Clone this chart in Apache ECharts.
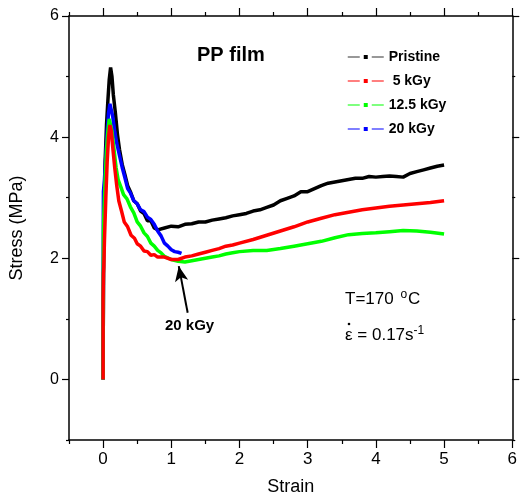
<!DOCTYPE html>
<html><head><meta charset="utf-8">
<script src="https://cdn.jsdelivr.net/npm/echarts@6/dist/echarts.min.js"></script>
<style>html,body{margin:0;padding:0;background:#fff}#c{width:520px;height:501px}</style>
</head><body><div id="c"></div>
<script>
const seriesNames = ['Pristine', ' 5 kGy', '12.5 kGy', '20 kGy'];
const pristine = [[0,0],[0,0.5],[0.005,1.2],[0.01,2.2],[0.02,3.0],[0.03,3.6],[0.05,4.2],[0.07,4.6],[0.09,4.95],[0.11,5.15],[0.13,5.0],[0.15,4.7],[0.18,4.4],[0.21,4.05],[0.24,3.8],[0.28,3.55],[0.32,3.38],[0.36,3.2],[0.4,3.1],[0.45,2.95],[0.5,2.9],[0.55,2.78],[0.6,2.74],[0.65,2.62],[0.7,2.62],[0.75,2.5],[0.8,2.47],[0.9,2.5],[1.0,2.53],[1.1,2.52],[1.2,2.56],[1.3,2.57],[1.4,2.6],[1.5,2.6],[1.6,2.63],[1.7,2.65],[1.8,2.67],[1.9,2.7],[2.0,2.72],[2.1,2.74],[2.2,2.78],[2.3,2.8],[2.4,2.84],[2.5,2.88],[2.6,2.95],[2.7,2.99],[2.8,3.03],[2.9,3.1],[3.0,3.1],[3.1,3.15],[3.2,3.2],[3.3,3.24],[3.4,3.26],[3.5,3.28],[3.6,3.3],[3.7,3.32],[3.8,3.32],[3.9,3.35],[4.0,3.34],[4.1,3.35],[4.2,3.36],[4.3,3.35],[4.4,3.34],[4.5,3.4],[4.6,3.43],[4.7,3.46],[4.8,3.49],[4.9,3.52],[5.0,3.54]];
const kGy5 = [[0,0],[0,0.66],[0,1.32],[0.005,1.75],[0.01,1.85],[0.02,2.3],[0.04,3.0],[0.06,3.6],[0.08,4.0],[0.1,4.2],[0.12,4.1],[0.14,3.85],[0.17,3.5],[0.2,3.2],[0.23,2.95],[0.27,2.78],[0.31,2.6],[0.36,2.52],[0.41,2.38],[0.46,2.33],[0.5,2.24],[0.55,2.2],[0.6,2.12],[0.65,2.11],[0.7,2.05],[0.75,2.06],[0.8,2.02],[0.9,2.02],[1.0,1.98],[1.1,1.98],[1.2,2.02],[1.3,2.04],[1.4,2.07],[1.5,2.1],[1.6,2.13],[1.7,2.16],[1.8,2.2],[1.9,2.22],[2.0,2.25],[2.2,2.31],[2.4,2.38],[2.6,2.45],[2.8,2.52],[3.0,2.6],[3.2,2.66],[3.4,2.72],[3.6,2.76],[3.8,2.8],[4.0,2.83],[4.2,2.86],[4.4,2.88],[4.6,2.9],[4.8,2.92],[5.0,2.95]];
const kGy12_5 = [[0,0],[0,0.8],[0.003,1.9],[0.005,2.4],[0.01,2.7],[0.03,3.3],[0.05,3.8],[0.07,4.1],[0.09,4.3],[0.11,4.3],[0.13,4.1],[0.16,3.8],[0.19,3.5],[0.22,3.3],[0.26,3.18],[0.3,3.05],[0.35,2.98],[0.4,2.85],[0.45,2.75],[0.5,2.6],[0.55,2.53],[0.6,2.42],[0.65,2.36],[0.7,2.25],[0.75,2.2],[0.8,2.13],[0.85,2.09],[0.9,2.03],[1.0,1.98],[1.1,1.95],[1.2,1.94],[1.3,1.96],[1.4,1.98],[1.5,2.0],[1.6,2.02],[1.7,2.04],[1.8,2.07],[1.9,2.09],[2.0,2.11],[2.2,2.13],[2.4,2.13],[2.6,2.16],[2.8,2.2],[3.0,2.24],[3.2,2.28],[3.4,2.34],[3.6,2.39],[3.8,2.41],[4.0,2.42],[4.2,2.44],[4.4,2.46],[4.6,2.45],[4.8,2.43],[5.0,2.4]];
const kGy20 = [[0,0],[0,1.14],[0.003,2.7],[0.005,3.1],[0.02,3.3],[0.04,3.7],[0.06,4.1],[0.08,4.4],[0.1,4.55],[0.12,4.55],[0.14,4.35],[0.17,4.1],[0.2,3.9],[0.24,3.7],[0.28,3.5],[0.32,3.33],[0.36,3.15],[0.4,3.08],[0.45,2.95],[0.5,2.9],[0.55,2.8],[0.6,2.77],[0.65,2.68],[0.7,2.64],[0.75,2.56],[0.8,2.45],[0.85,2.37],[0.9,2.25],[0.95,2.2],[1.0,2.14],[1.05,2.11],[1.1,2.1],[1.15,2.08]];
const xTickLabels = [0,1,2,3,4,5,6];
const xMinorTicks = [-0.5,0.5,1.5,2.5,3.5,4.5,5.5];
const yTickLabels = [0,2,4,6];
const yMinorTicks = [-1,1,3,5];
const arrowFrom = [1.24, 1.1];
const arrowTo = [1.11, 1.87];

const chart = echarts.init(document.getElementById('c'), null, {renderer:'canvas'});
const font = 'Liberation Sans, Arial, sans-serif';
function mkAxis(kind, pos, ticks, len, showLine, extra){
  const base = {type:'value', position:pos, splitLine:{show:false},
    axisLine:{show:showLine, onZero:false, lineStyle:{color:'#000', width:1.5}},
    axisTick:{show:true, inside:false, length:len, customValues:ticks, lineStyle:{color:'#000', width:1.2}},
    axisLabel:{show:false}};
  if (kind === 'x') { base.min = -0.5; base.max = 6; base.interval = 0.5; }
  else { base.min = -1; base.max = 6; base.interval = 1; }
  return Object.assign(base, extra || {});
}
function mkSeries(name, data, color){
  return {name, type:'line', data, symbol:'rect', symbolSize:3, showSymbol:false,
    lineStyle:{color, width:3.5}, itemStyle:{color}, z:2, animation:false};
}
const s = [
  mkSeries(seriesNames[0], pristine, '#000000'),
  mkSeries(seriesNames[3], kGy20, '#0000ff'),
  mkSeries(seriesNames[2], kGy12_5, '#00ff00'),
  mkSeries(seriesNames[1], kGy5, '#ff0000')
];
s[3].markLine = {silent:true, symbol:['none','arrow'], symbolSize:[10,15],
  lineStyle:{color:'#000', width:2, type:'solid'}, label:{show:false},
  data:[[{coord:arrowFrom},{coord:arrowTo}]], animation:false};
chart.setOption({
  animation:false,
  backgroundColor:'#fff',
  grid:{left:67, right:6, top:16, bottom:59, containLabel:false},
  xAxis:[
    mkAxis('x','bottom', xTickLabels, 8, true, {
      name:'Strain', nameLocation:'middle', nameGap:38,
      nameTextStyle:{fontFamily:font, fontSize:18, color:'#000'},
      axisLabel:{show:true, customValues:xTickLabels, fontFamily:font, fontSize:17, color:'#000', margin:11}}),
    mkAxis('x','bottom', xMinorTicks, 4, false),
    mkAxis('x','top', xTickLabels, 8, true),
    mkAxis('x','top', xMinorTicks, 4, false)
  ],
  yAxis:[
    mkAxis('y','left', yTickLabels, 7, true, {
      name:'Stress (MPa)', nameLocation:'middle', nameGap:43,
      nameTextStyle:{fontFamily:font, fontSize:18, color:'#000'},
      axisLabel:{show:true, customValues:yTickLabels, fontFamily:font, fontSize:16, color:'#000', margin:10}}),
    mkAxis('y','left', yMinorTicks, 3, false),
    mkAxis('y','right', yTickLabels, 7, true),
    mkAxis('y','right', yMinorTicks, 3, false)
  ],
  legend:{show:true, orient:'vertical', left:347, top:50, padding:0, itemWidth:36, itemHeight:5, itemGap:10,
    textStyle:{fontFamily:font, fontSize:14, fontWeight:'bold', color:'#000'},
    data:[
      {name:seriesNames[0], lineStyle:{color:'#777', width:1.5, type:[12,12]}, itemStyle:{color:'#000'}},
      {name:seriesNames[1], lineStyle:{color:'#ff0000', width:1.2, type:[12,12]}},
      {name:seriesNames[2], lineStyle:{color:'#00ff00', width:1.2, type:[12,12]}},
      {name:seriesNames[3], lineStyle:{color:'#0000ff', width:1.2, type:[12,12]}}
    ]},
  graphic:[
    {type:'text', left:197, top:45, style:{text:'PP film', font:'bold 20px '+font, fill:'#000'}},
    {type:'text', left:165, top:318, style:{text:'20 kGy', font:'bold 15px '+font, fill:'#000'}},
    {type:'text', left:345, top:289, style:{text:'T=170 {sup|o}C', font:'17px '+font, fill:'#000',
      rich:{sup:{fontSize:12, padding:[0,1,9,2], fontFamily:font}}}},
    {type:'text', left:345, top:325, style:{text:'\u03B5 = 0.17s{sup|-1}', font:'17px '+font, fill:'#000',
      rich:{sup:{fontSize:12, padding:[0,0,9,0], fontFamily:font}}}},
    {type:'circle', shape:{cx:349, cy:324, r:1.3}, style:{fill:'#000'}}
  ],
  series:s
});
</script></body></html>
